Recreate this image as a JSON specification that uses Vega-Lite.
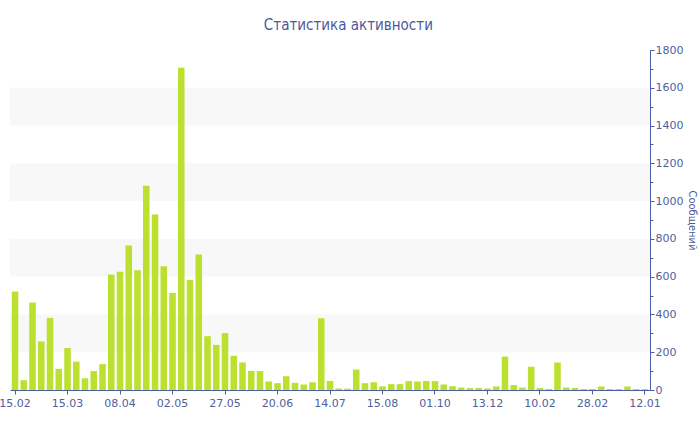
{
  "$schema": "https://vega.github.io/schema/vega-lite/v6.json",
  "width": 640,
  "height": 340,
  "autosize": {"type": "none"},
  "padding": {"left": 10, "top": 50, "right": 50, "bottom": 40},
  "background": "white",
  "title": {
    "text": "Статистика активности",
    "font": "Liberation Sans Narrow, DejaVu Sans Condensed, sans-serif",
    "fontSize": 15,
    "fontWeight": "normal",
    "color": "#4a5a9e",
    "anchor": "middle",
    "frame": "bounds",
    "offset": 11
  },
  "datasets": {
    "bands": [
      {"from": 200, "to": 400},
      {"from": 600, "to": 800},
      {"from": 1000, "to": 1200},
      {"from": 1400, "to": 1600}
    ],
    "activity": [
      {"date": "15.02.2009", "messages": 521},
      {"date": "19.02.2009", "messages": 52},
      {"date": "24.02.2009", "messages": 463},
      {"date": "01.03.2009", "messages": 257},
      {"date": "06.03.2009", "messages": 382},
      {"date": "10.03.2009", "messages": 112},
      {"date": "15.03.2009", "messages": 222},
      {"date": "19.03.2009", "messages": 150},
      {"date": "23.03.2009", "messages": 62},
      {"date": "27.03.2009", "messages": 100},
      {"date": "31.03.2009", "messages": 137},
      {"date": "04.04.2009", "messages": 611},
      {"date": "08.04.2009", "messages": 626},
      {"date": "12.04.2009", "messages": 765},
      {"date": "16.04.2009", "messages": 634},
      {"date": "20.04.2009", "messages": 1081},
      {"date": "24.04.2009", "messages": 929},
      {"date": "28.04.2009", "messages": 655},
      {"date": "02.05.2009", "messages": 514},
      {"date": "06.05.2009", "messages": 1706},
      {"date": "10.05.2009", "messages": 583},
      {"date": "14.05.2009", "messages": 717},
      {"date": "18.05.2009", "messages": 285},
      {"date": "22.05.2009", "messages": 239},
      {"date": "27.05.2009", "messages": 301},
      {"date": "31.05.2009", "messages": 181},
      {"date": "04.06.2009", "messages": 146},
      {"date": "08.06.2009", "messages": 101},
      {"date": "12.06.2009", "messages": 100},
      {"date": "16.06.2009", "messages": 45},
      {"date": "20.06.2009", "messages": 36},
      {"date": "24.06.2009", "messages": 73},
      {"date": "28.06.2009", "messages": 38},
      {"date": "02.07.2009", "messages": 29},
      {"date": "06.07.2009", "messages": 41},
      {"date": "10.07.2009", "messages": 380},
      {"date": "14.07.2009", "messages": 48},
      {"date": "19.07.2009", "messages": 8},
      {"date": "25.07.2009", "messages": 7},
      {"date": "30.07.2009", "messages": 108},
      {"date": "04.08.2009", "messages": 36},
      {"date": "10.08.2009", "messages": 41},
      {"date": "15.08.2009", "messages": 19},
      {"date": "23.08.2009", "messages": 31},
      {"date": "31.08.2009", "messages": 31},
      {"date": "08.09.2009", "messages": 47},
      {"date": "16.09.2009", "messages": 45},
      {"date": "24.09.2009", "messages": 48},
      {"date": "01.10.2009", "messages": 47},
      {"date": "13.10.2009", "messages": 29},
      {"date": "25.10.2009", "messages": 20},
      {"date": "06.11.2009", "messages": 13},
      {"date": "18.11.2009", "messages": 10},
      {"date": "30.11.2009", "messages": 11},
      {"date": "13.12.2009", "messages": 8},
      {"date": "23.12.2009", "messages": 19},
      {"date": "02.01.2010", "messages": 177},
      {"date": "12.01.2010", "messages": 26},
      {"date": "22.01.2010", "messages": 13},
      {"date": "01.02.2010", "messages": 123},
      {"date": "10.02.2010", "messages": 11},
      {"date": "13.02.2010", "messages": 5},
      {"date": "16.02.2010", "messages": 146},
      {"date": "19.02.2010", "messages": 13},
      {"date": "22.02.2010", "messages": 10},
      {"date": "25.02.2010", "messages": 5},
      {"date": "28.02.2010", "messages": 5},
      {"date": "15.04.2010", "messages": 19},
      {"date": "01.06.2010", "messages": 5},
      {"date": "17.07.2010", "messages": 5},
      {"date": "02.09.2010", "messages": 19},
      {"date": "18.10.2010", "messages": 5},
      {"date": "12.01.2011", "messages": 5}
    ]
  },
  "layer": [
    {
      "data": {"name": "bands"},
      "mark": {"type": "rect", "color": "#f8f8f8"},
      "encoding": {
        "y": {
          "field": "from",
          "type": "quantitative",
          "scale": {"domain": [0, 1800], "nice": false},
          "axis": {
            "orient": "right",
            "title": "Сообщений",
            "titleFont": "Liberation Sans Narrow, DejaVu Sans Condensed, sans-serif",
            "titleFontSize": 11,
            "titleFontWeight": "normal",
            "titleColor": "#4a5a9e",
            "titlePadding": 4,
            "values": [0, 100, 200, 300, 400, 500, 600, 700, 800, 900, 1000, 1100, 1200, 1300, 1400, 1500, 1600, 1700, 1800],
            "format": "d",
            "labelExpr": "datum.value % 200 === 0 ? datum.label : ''",
            "labelFont": "DejaVu Sans",
            "labelFontSize": 11,
            "labelColor": "#4e5f9f",
            "labelPadding": 1,
            "tickSize": {"condition": {"test": "datum.value % 200 === 0", "value": 4}, "value": 3},
            "domainColor": "#4a5fa5",
            "tickColor": "#4a5fa5",
            "grid": false
          }
        },
        "y2": {"field": "to"}
      }
    },
    {
      "data": {"name": "activity"},
      "mark": {"type": "bar", "color": "#bbe02f"},
      "encoding": {
        "x": {
          "field": "date",
          "type": "nominal",
          "sort": null,
          "scale": {"paddingInner": 0.25, "paddingOuter": 0.2},
          "axis": {
            "title": null,
            "values": ["15.02.2009", "15.03.2009", "08.04.2009", "02.05.2009", "27.05.2009", "20.06.2009", "14.07.2009", "15.08.2009", "01.10.2009", "13.12.2009", "10.02.2010", "28.02.2010", "12.01.2011"],
            "labelExpr": "slice(datum.label, 0, 5)",
            "labelAngle": 0,
            "labelFont": "DejaVu Sans",
            "labelFontSize": 11,
            "labelColor": "#4e5f9f",
            "labelPadding": 3,
            "domainColor": "#4a5fa5",
            "tickColor": "#4a5fa5",
            "tickSize": 4,
            "grid": false
          }
        },
        "y": {
          "field": "messages",
          "type": "quantitative",
          "scale": {"domain": [0, 1800], "nice": false},
          "axis": {
            "orient": "right",
            "title": "Сообщений",
            "titleFont": "Liberation Sans Narrow, DejaVu Sans Condensed, sans-serif",
            "titleFontSize": 11,
            "titleFontWeight": "normal",
            "titleColor": "#4a5a9e",
            "titlePadding": 4,
            "values": [0, 100, 200, 300, 400, 500, 600, 700, 800, 900, 1000, 1100, 1200, 1300, 1400, 1500, 1600, 1700, 1800],
            "format": "d",
            "labelExpr": "datum.value % 200 === 0 ? datum.label : ''",
            "labelFont": "DejaVu Sans",
            "labelFontSize": 11,
            "labelColor": "#4e5f9f",
            "labelPadding": 1,
            "tickSize": {"condition": {"test": "datum.value % 200 === 0", "value": 4}, "value": 3},
            "domainColor": "#4a5fa5",
            "tickColor": "#4a5fa5",
            "grid": false
          }
        }
      }
    }
  ],
  "config": {"view": {"stroke": null}}
}
